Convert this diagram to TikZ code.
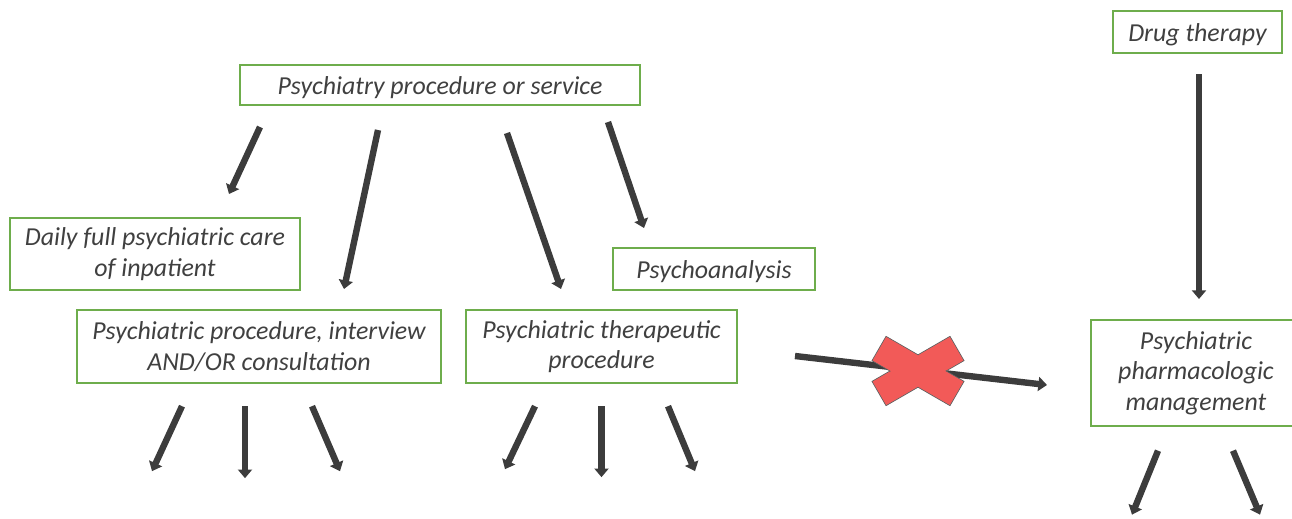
\documentclass[tikz,border=0pt]{standalone}
\usepackage{fontspec}
\setmainfont{Carlito}
\usepackage{tikz}
\usetikzlibrary{arrows.meta,calc}
\definecolor{boxgreen}{HTML}{6EAD4C}
\definecolor{txtgrey}{HTML}{404040}
\definecolor{argrey}{HTML}{3C3C3C}
\definecolor{xred}{HTML}{F25A58}

\begin{document}
\begin{tikzpicture}[x=0.75pt, y=-0.75pt]
    \tikzset{
        concept/.style={
            draw=boxgreen, line width=1.5pt, fill=white,
            text=txtgrey, align=center, inner sep=0pt,
            font=\fontsize{19.4}{22.8}\selectfont\itshape,
            execute at begin node={\rule{0pt}{18pt}}
        },
        arr/.style={
            draw=argrey, line width=4.8pt,
            -{Triangle[width=10.5pt, length=6.5pt]}
        },
        cross/.style={
            fill=xred, draw=argrey!80, line width=0.6pt
        },
    }
    \useasboundingbox (0,0) rectangle (1292,518);

    % ==== Concept boxes ====
    \node[concept, minimum width=300pt, minimum height=30pt] (top) at (440,85) {Psychiatry procedure or service};
    \node[concept, minimum width=127pt, minimum height=32pt] (drug) at (1197.5,32) {Drug therapy};
    \node[concept, minimum width=217pt, minimum height=54pt] (daily) at (155,254) {Daily full psychiatric care\\of inpatient};
    \node[concept, minimum width=151pt, minimum height=31pt] (psa) at (714,269) {Psychoanalysis};
    \node[concept, minimum width=273pt, minimum height=55pt] (interv) at (259,346.5) {Psychiatric procedure, interview\\AND/OR consultation};
    \node[concept, minimum width=203pt, minimum height=55pt] (thera) at (601.5,346.5) {Psychiatric therapeutic\\procedure};
    \node[concept, minimum width=158pt, minimum height=79pt] (pharm) at (1196,373) {Psychiatric\\pharmacologic\\management};

    % ==== Arrow ends ====
    \coordinate (t1) at (260,127); \coordinate (d1) at (229,194);
    \coordinate (t2) at (378,130); \coordinate (d2) at (344,289);
    \coordinate (t3) at (507,133); \coordinate (d3) at (561,289);
    \coordinate (t4) at (608,122); \coordinate (d4) at (644,228);
    \coordinate (t5) at (1199,74); \coordinate (d5) at (1199,299);
    \coordinate (xa) at (795,356); \coordinate (xb) at (1047,385);
    \coordinate (xc) at (918,371);

    % ==== Arrows from the boxes ====
    \draw[arr] (t1) -- (d1);
    \draw[arr] (t2) -- (d2);
    \draw[arr] (t3) -- (d3);
    \draw[arr] (t4) -- (d4);
    \draw[arr] (t5) -- (d5);

    % ==== Leaves ====
    \draw[arr] ([shift={(-77,22)}]interv.south) -- ([shift={(-107,87)}]interv.south);
    \draw[arr] ([shift={(-14,22)}]interv.south) -- ([shift={(-14,94)}]interv.south);
    \draw[arr] ([shift={(53,22)}]interv.south) -- ([shift={(81,87)}]interv.south);
    \draw[arr] ([shift={(-66.5,22)}]thera.south) -- ([shift={(-96.5,85)}]thera.south);
    \draw[arr] ([shift={(0,22)}]thera.south) -- ([shift={(0,93)}]thera.south);
    \draw[arr] ([shift={(66.5,22)}]thera.south) -- ([shift={(93.5,87)}]thera.south);
    \draw[arr] ([shift={(-38,24)}]pharm.south) -- ([shift={(-64,88)}]pharm.south);
    \draw[arr] ([shift={(37,24)}]pharm.south) -- ([shift={(64,88)}]pharm.south);

    % ==== Crossed out link ====
    \draw[arr] (xa) -- (xb);
    \foreach \ang in {30,-30}
        \draw[cross, rotate around={\ang:(xc)}] ($(xc)+(-45,-14)$) rectangle ($(xc)+(45,14)$);
    \foreach \ang in {30,-30}
        \fill[xred, rotate around={\ang:(xc)}] ($(xc)+(-44.4,-13.4)$) rectangle ($(xc)+(44.4,13.4)$);

\end{tikzpicture}
\end{document}
